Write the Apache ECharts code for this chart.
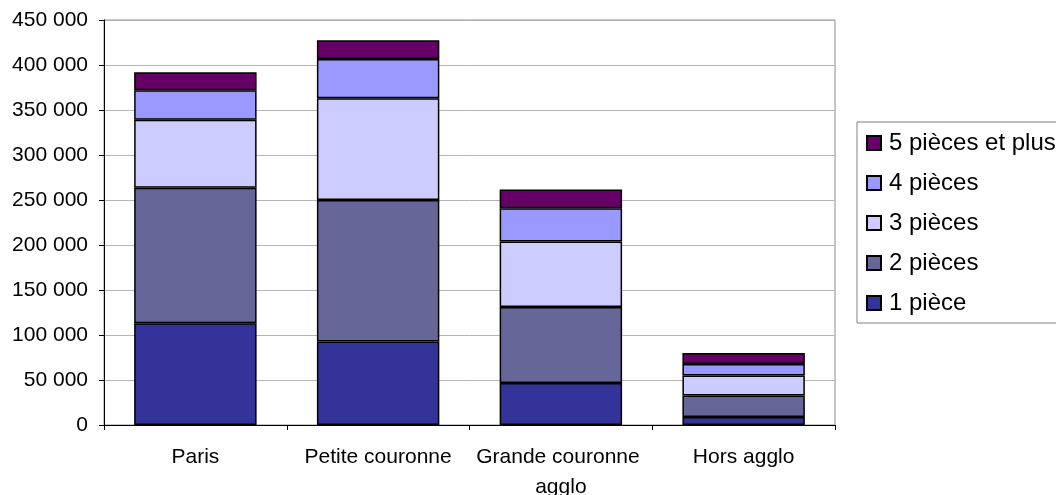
<!DOCTYPE html>
<html>
<head>
<meta charset="utf-8">
<title>Logements par nombre de pièces</title>
<script src="https://cdn.jsdelivr.net/npm/echarts@6/dist/echarts.min.js"></script>
<style>
  html, body { margin: 0; padding: 0; background: #fff; }
  #chart { width: 1056px; height: 495px; }
</style>
</head>
<body>
<div id="chart"></div>
<script>
// zones
var categories = ['Paris', 'Petite couronne', 'Grande couronne agglo', 'Hors agglo']

// nombre de logements par taille
var unePiece = [113000, 92800, 46600, 8900]
var deuxPieces = [150500, 157300, 84400, 24000]
var troisPieces = [75800, 112900, 72900, 22200]
var quatrePieces = [32600, 43700, 37000, 12600]
var cinqPiecesEtPlus = [20100, 20700, 20700, 12200]

var yTicks = { min: 0, max: 450000, interval: 50000 }

var fontFamily = '"Liberation Sans", Arial, sans-serif'

function thousands(v) {
  return String(v).replace(/\B(?=(\d{3})+(?!\d))/g, ' ')
}

function barSeries(name, data, color) {
  return {
    name: name,
    type: 'bar',
    stack: 'total',
    barCategoryGap: '33%',
    data: data,
    itemStyle: {
      color: color,
      borderColor: '#000',
      borderWidth: 1.5
    }
  }
}

var chart = echarts.init(document.getElementById('chart'))
chart.setOption({
  animation: false,
  textStyle: { fontFamily: fontFamily, color: '#000' },
  grid: {
    left: 104,
    right: 221,
    top: 20,
    bottom: 70,
    outerBoundsMode: 'none',
    show: true,
    borderColor: '#8c8c8c',
    borderWidth: 1
  },
  legend: {
    orient: 'vertical',
    left: 857,
    top: 122,
    padding: [9, 12, 8, 9],
    itemGap: 16,
    itemWidth: 14,
    itemHeight: 14,
    icon: 'rect',
    borderColor: '#808080',
    borderWidth: 1,
    textStyle: {
      fontFamily: fontFamily,
      fontSize: 24,
      lineHeight: 24,
      color: '#000',
      padding: [0, 0, 0, 3]
    },
    data: ['5 pièces et plus', '4 pièces', '3 pièces', '2 pièces', '1 pièce']
  },
  xAxis: {
    type: 'category',
    data: categories,
    axisLine: { lineStyle: { color: '#000', width: 1 } },
    axisTick: { show: true, length: 5, lineStyle: { color: '#000' } },
    axisLabel: {
      fontFamily: fontFamily,
      fontSize: 21,
      lineHeight: 30,
      color: '#000',
      margin: 17,
      width: 175,
      overflow: 'break',
      interval: 0
    }
  },
  yAxis: {
    type: 'value',
    min: yTicks.min,
    max: yTicks.max,
    interval: yTicks.interval,
    axisLine: { show: true, lineStyle: { color: '#000', width: 1 } },
    axisTick: { show: true, length: 5, lineStyle: { color: '#000' } },
    axisLabel: {
      fontFamily: fontFamily,
      fontSize: 21,
      color: '#000',
      margin: 16,
      formatter: thousands
    },
    splitLine: { lineStyle: { color: '#b4b4b4', width: 1 } }
  },
  series: [
    barSeries('1 pièce', unePiece, '#333399'),
    barSeries('2 pièces', deuxPieces, '#666699'),
    barSeries('3 pièces', troisPieces, '#ccccff'),
    barSeries('4 pièces', quatrePieces, '#9999ff'),
    barSeries('5 pièces et plus', cinqPiecesEtPlus, '#660066')
  ]
})
</script>
</body>
</html>
